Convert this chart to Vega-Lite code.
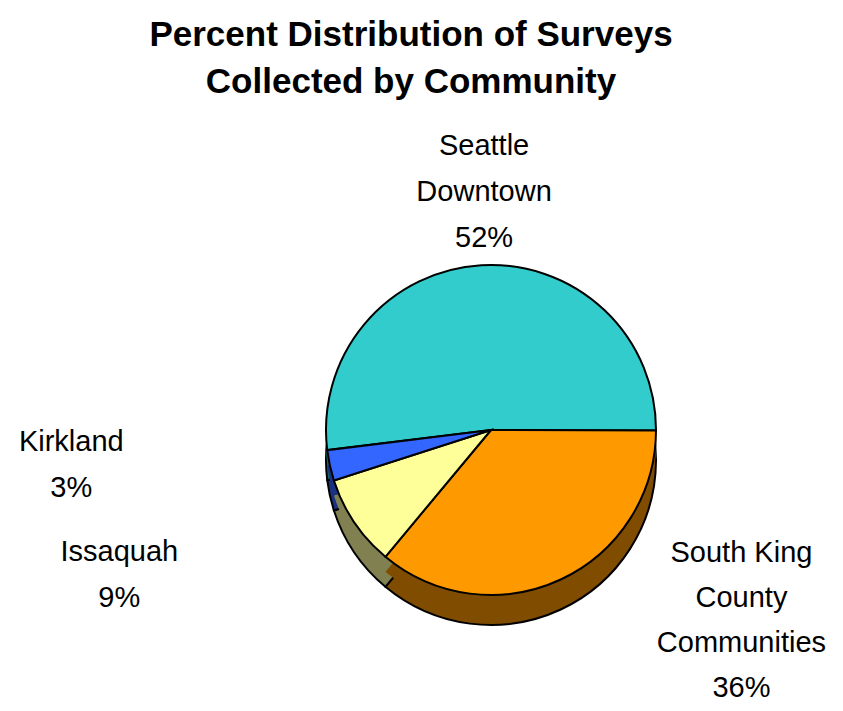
{
  "$schema": "https://vega.github.io/schema/vega-lite/v6.json",
  "width": 702,
  "height": 560,
  "autosize": {"type": "none"},
  "padding": {"left": 140, "right": 0, "top": 150, "bottom": 0},
  "background": "white",
  "title": {
    "text": ["Percent Distribution of Surveys", "Collected by Community"],
    "font": "Liberation Sans, Arial, sans-serif",
    "fontSize": 35,
    "fontWeight": "bold",
    "lineHeight": 47,
    "color": "black",
    "anchor": "middle",
    "dx": -80,
    "offset": 32
  },
  "data": {
    "values": [
      {"community": "Seattle Downtown", "pct": 52, "order": 1, "label": "Seattle\nDowntown\n52%"},
      {"community": "South King County Communities", "pct": 36, "order": 2, "label": "South King\nCounty\nCommunities\n36%"},
      {"community": "Issaquah", "pct": 9, "order": 3, "label": "Issaquah\n9%"},
      {"community": "Kirkland", "pct": 3, "order": 4, "label": "Kirkland\n3%"}
    ]
  },
  "encoding": {
    "theta": {"field": "pct", "type": "quantitative", "stack": true, "scale": {"range": [-1.693, 4.590]}},
    "order": {"field": "order", "type": "quantitative"}
  },
  "layer": [
    {
      "mark": {"type": "arc", "radius": 165, "yOffset": 30, "stroke": "black", "strokeWidth": 2},
      "encoding": {
        "color": {
          "field": "community", "type": "nominal", "legend": null,
          "scale": {"domain": ["Seattle Downtown", "South King County Communities", "Issaquah", "Kirkland"],
                    "range": ["#1A6666", "#804C00", "#808050", "#1A3380"]}
        }
      }
    },
    {
      "mark": {"type": "arc", "radius": 165, "yOffset": 15, "strokeWidth": 0},
      "encoding": {
        "color": {
          "field": "community", "type": "nominal", "legend": null,
          "scale": {"domain": ["Seattle Downtown", "South King County Communities", "Issaquah", "Kirkland"],
                    "range": ["#1A6666", "#804C00", "#808050", "#1A3380"]}
        }
      }
    },
    {
      "mark": {"type": "arc", "radius": 165, "stroke": "black", "strokeWidth": 2},
      "encoding": {
        "fill": {
          "field": "community", "type": "nominal", "legend": null,
          "scale": {"domain": ["Seattle Downtown", "South King County Communities", "Issaquah", "Kirkland"],
                    "range": ["#33CCCC", "#FF9900", "#FFFF99", "#3366FF"]}
        }
      }
    },
    {
      "mark": {"type": "text", "radius": 285, "dx": 10, "fontSize": 29, "lineHeight": 46, "lineBreak": "\n", "align": "center", "baseline": "middle", "color": "black",
               "font": "Liberation Sans, Arial, sans-serif"},
      "encoding": {"text": {"condition": {"test": "datum.community === 'Seattle Downtown'", "field": "label"}, "value": ""}}
    },
    {
      "mark": {"type": "text", "radius": 143, "dx": 190, "dy": -7, "fontSize": 29, "lineHeight": 45, "lineBreak": "\n", "align": "center", "baseline": "middle", "color": "black",
               "font": "Liberation Sans, Arial, sans-serif"},
      "encoding": {"text": {"condition": {"test": "datum.community === 'South King County Communities'", "field": "label"}, "value": ""}}
    },
    {
      "mark": {"type": "text", "radius": 218, "dx": -191, "fontSize": 29, "lineHeight": 46, "lineBreak": "\n", "align": "center", "baseline": "middle", "color": "black",
               "font": "Liberation Sans, Arial, sans-serif"},
      "encoding": {"text": {"condition": {"test": "datum.community === 'Issaquah'", "field": "label"}, "value": ""}}
    },
    {
      "mark": {"type": "text", "radius": 56, "dx": -365, "fontSize": 29, "lineHeight": 46, "lineBreak": "\n", "align": "center", "baseline": "middle", "color": "black",
               "font": "Liberation Sans, Arial, sans-serif"},
      "encoding": {"text": {"condition": {"test": "datum.community === 'Kirkland'", "field": "label"}, "value": ""}}
    }
  ],
  "resolve": {"scale": {"color": "independent", "fill": "independent"}},
  "config": {"view": {"stroke": null}}
}
